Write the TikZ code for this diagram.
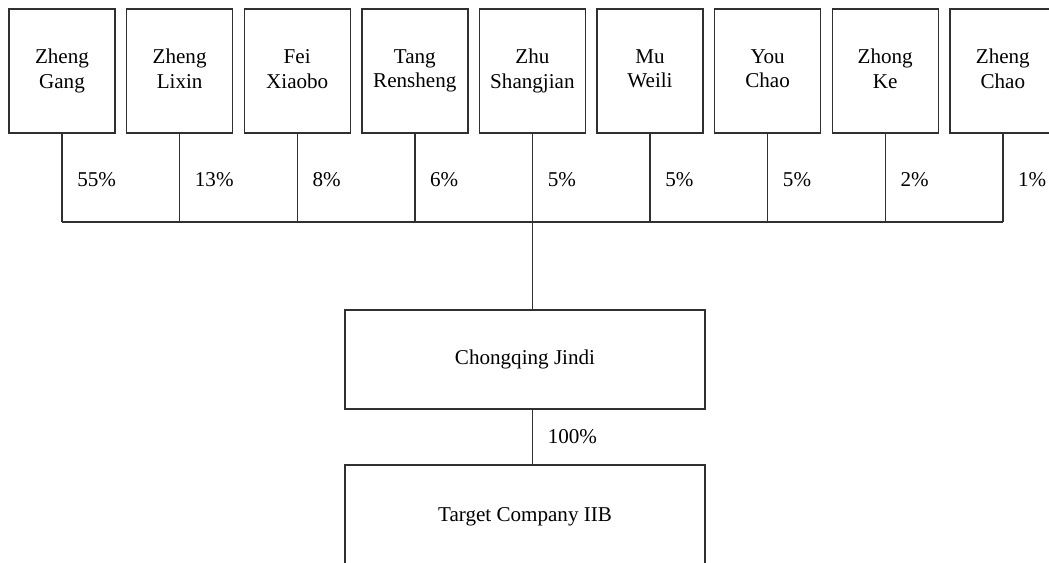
\documentclass[tikz,border=0pt]{standalone}
\usepackage{fontspec}
\setmainfont{Liberation Serif}
\usepackage{tikz}
\usetikzlibrary{calc, positioning}
\definecolor{LINE}{HTML}{303030}
\tikzset{
  holder/.style={% Style for the shareholder boxes
      rectangle, line width=0.8pt,
      align=center,
      minimum width=2.12cm,
      minimum height=2.48cm,
      font=\fontsize{12}{14.2}\selectfont,
      draw=LINE,
  },
  company/.style={% Style for the company boxes
      rectangle, line width=0.8pt,
      align=center,
      minimum width=7.2cm,
      font=\fontsize{12}{14.2}\selectfont,
      draw=LINE,
  },
  share/.style={% Style for the percentages
      anchor=west, inner sep=0pt,
      font=\fontsize{12}{14.2}\selectfont,
  },
  link/.style={line width=0.8pt, draw=LINE}
}

\begin{document}
\begin{tikzpicture}
    \useasboundingbox (0,0) rectangle (20.98,-11.26);
    \coordinate (bus) at (0,-4.44); % horizontal line under the holders
    \coordinate (pcrow) at (0,-3.6); % row of percentages
    \foreach \who/\pct [count=\i] in {
      Zheng\\Gang/55,
      Zheng\\Lixin/13,
      Fei\\Xiaobo/8,
      Tang\\Rensheng/6,
      Zhu\\Shangjian/5,
      Mu\\Weili/5,
      You\\Chao/5,
      Zhong\\Ke/2,
      Zheng\\Chao/1%
    } {%
        \node[holder, text depth=0.6ex] (p\i) at ({1.24+2.352*(\i-1)},-1.42) {\who}; % holder box
        \draw[link] (p\i.south) -- (p\i.south |- bus); % down to the bus
        \node[share] (pc\i) at ([xshift=0.3cm]p\i.south |- pcrow) {\pct\%};
    }
    \draw[link] (p1.south |- bus) -- (p9.south |- bus);
    \node[company, minimum height=1.98cm] (jindi) at (10.5,-7.19) {Chongqing Jindi};
    \node[company, minimum height=3cm] (target) at (10.5,-10.8) {};
    \node[font=\fontsize{12}{14.2}\selectfont] (tname) at (10.5,-10.34) {Target Company IIB};
    \draw[link] (p5.south |- bus) -- (p5.south |- jindi.north);
    \draw[link] (p5.south |- jindi.south) -- (p5.south |- target.north);
    \node[share] (pc0) at ([xshift=0.3cm]p5.south |- 0,-8.74) {100\%};
\end{tikzpicture}
\end{document}
